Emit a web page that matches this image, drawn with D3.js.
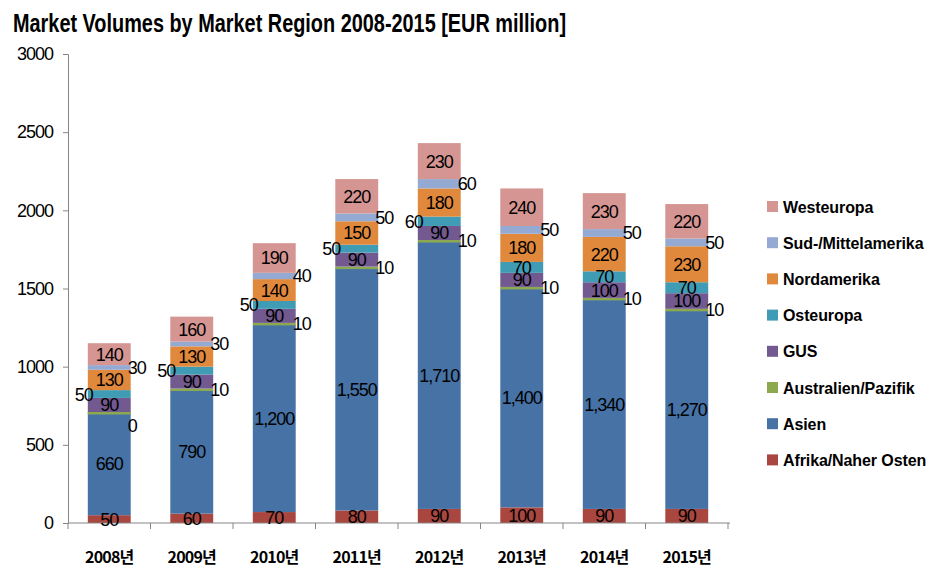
<!DOCTYPE html>
<html><head><meta charset="utf-8">
<script src="https://cdn.jsdelivr.net/npm/d3@7"></script>
<style>
body{margin:0;background:#fff;}
svg{display:block;}
</style></head>
<body>
<script>
const title = "Market Volumes by Market Region 2008-2015 [EUR million]";
const categories = ["2008년","2009년","2010년","2011년","2012년","2013년","2014년","2015년"];
const seriesNames = ["Afrika/Naher Osten","Asien","Australien/Pazifik","GUS","Osteuropa","Nordamerika","Sud-/Mittelamerika","Westeuropa"];
const afrika     = [50, 60, 70, 80, 90, 100, 90, 90];
const asien      = [660, 790, 1200, 1550, 1710, 1400, 1340, 1270];
const australien = [0, 10, 10, 10, 10, 10, 10, 10];
const gus        = [90, 90, 90, 90, 90, 90, 100, 100];
const osteuropa  = [50, 50, 50, 50, 60, 70, 70, 70];
const nordamerika= [130, 130, 140, 150, 180, 180, 220, 230];
const sudamerika = [30, 30, 40, 50, 60, 50, 50, 50];
const westeuropa = [140, 160, 190, 220, 230, 240, 230, 220];
const yTicks = [0, 500, 1000, 1500, 2000, 2500, 3000];

const seriesValues = [afrika, asien, australien, gus, osteuropa, nordamerika, sudamerika, westeuropa];
const colors = ["#A9463F","#4672A6","#8DA94F","#72598F","#3F9CB4","#E0883B","#95AAD3","#D59592"];
const labelMode = ["in","in","right","in","leftOrIn","in","right","in"];

const W = 935, H = 578;
const svg = d3.select("body").append("svg").attr("width", W).attr("height", H);

const numFont = "'Liberation Sans Narrow', 'Liberation Sans', sans-serif";

svg.append("text").attr("x", 13).attr("y", 32)
  .attr("font-family", numFont).attr("font-size", 26).attr("font-weight", "bold")
  .attr("textLength", 553).attr("lengthAdjust", "spacingAndGlyphs")
  .attr("fill", "#000").text(title);

const x0 = 68, x1 = 728, yTop = 54, yBot = 523;
const x = d3.scaleBand().domain(categories).range([x0, x1]).paddingInner(0.48).paddingOuter(0.24);
const y = d3.scaleLinear().domain([0, 3000]).range([yBot, yTop]);

const table = categories.map((c, i) => {
  const o = {cat: c};
  seriesNames.forEach((s, j) => o[s] = seriesValues[j][i]);
  return o;
});
const stacked = d3.stack().keys(seriesNames)(table);

stacked.forEach((layer, j) => {
  svg.append("g").selectAll("rect").data(layer).join("rect")
    .attr("x", d => x(d.data.cat))
    .attr("width", x.bandwidth())
    .attr("y", d => y(d[1]))
    .attr("height", d => Math.max(y(d[0]) - y(d[1]), j === 2 ? 2.5 : 0))
    .attr("fill", colors[j]);
});

const yAxis = d3.axisLeft(y).tickValues(yTicks).tickSize(5).tickPadding(10).tickFormat(d3.format("d"));
const gy = svg.append("g").attr("transform", `translate(${x0},0)`).call(yAxis);
gy.select(".domain").attr("stroke", "#868686");
gy.selectAll(".tick line").attr("stroke", "#868686");
gy.selectAll("text").attr("font-family", numFont).attr("font-size", 18)
  .attr("letter-spacing", -1).attr("fill", "#000");

const gx = svg.append("g").attr("transform", `translate(0,${yBot})`);
gx.append("line").attr("x1", x0).attr("x2", x1 + 2).attr("stroke", "#868686");
d3.range(categories.length + 1).forEach(i => {
  const xx = x0 + i * (x1 - x0) / categories.length;
  gx.append("line").attr("x1", xx).attr("x2", xx).attr("y1", 0).attr("y2", 6).attr("stroke", "#868686");
});
gx.selectAll("text.cat").data(categories).join("text")
  .attr("class", "cat")
  .attr("x", d => x(d) + x.bandwidth() / 2)
  .attr("y", 40)
  .attr("text-anchor", "middle")
  .attr("font-family", "'Noto Sans CJK KR', sans-serif")
  .attr("font-size", 16).attr("font-weight", "bold")
  .attr("letter-spacing", -0.8)
  .text(d => d);

const fmt = d3.format(",");
const labels = svg.append("g").attr("font-family", numFont).attr("font-size", 18)
  .attr("letter-spacing", -1).attr("fill", "#000");
stacked.forEach((layer, j) => {
  layer.forEach((d, i) => {
    const v = d.data[seriesNames[j]];
    const bx = x(d.data.cat), bw = x.bandwidth();
    let cy = (y(d[0]) + y(d[1])) / 2;
    let tx = bx + bw / 2, anchor = "middle";
    let mode = labelMode[j];
    if (mode === "leftOrIn") mode = v < 70 ? "left" : "in";
    if (mode === "right") { tx = bx + bw - 3; anchor = "start"; }
    if (mode === "left") { tx = bx + 5; anchor = "end"; }
    if (v === 0) cy += 14;
    labels.append("text")
      .attr("x", tx).attr("y", cy).attr("dy", "0.36em")
      .attr("text-anchor", anchor)
      .text(fmt(v));
  });
});

const lg = svg.append("g");
const order = seriesNames.slice().reverse();
order.forEach((s, k) => {
  const j = seriesNames.indexOf(s);
  const cy = 207 + k * 36.2;
  lg.append("rect").attr("x", 767).attr("y", cy - 6).attr("width", 11).attr("height", 11).attr("fill", colors[j]);
  lg.append("text").attr("x", 783).attr("y", cy).attr("dy", "0.35em")
    .attr("font-family", numFont).attr("font-size", 16).attr("font-weight", "bold")
    .attr("letter-spacing", -0.1)
    .attr("fill", "#000").text(s);
});
</script>
</body></html>
